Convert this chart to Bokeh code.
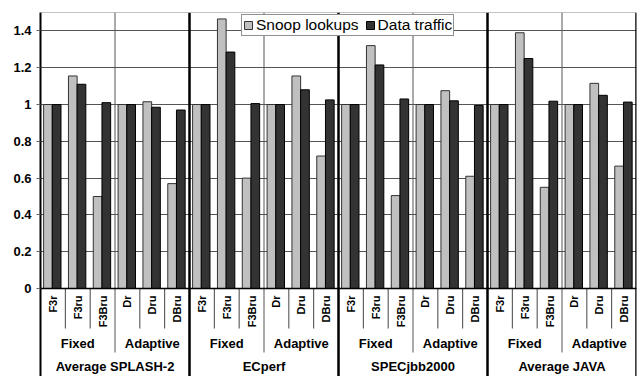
import math
from bokeh.plotting import figure
from bokeh.models import (ColumnDataSource, FixedTicker, Legend, LegendItem,
                          Range1d, Span)
from bokeh.core.properties import value
from bokeh.embed import file_html
from bokeh.resources import INLINE

# ---- data -------------------------------------------------------------
groups = ["Average SPLASH-2", "ECperf", "SPECjbb2000", "Average JAVA"]
policies = ["Fixed", "Adaptive"]
configs = ["F3r", "F3ru", "F3Bru", "Dr", "Dru", "DBru"]

snoop_lookups = [1.0, 1.155, 0.50, 1.0, 1.015, 0.57,
                 1.0, 1.465, 0.60, 1.0, 1.155, 0.72,
                 1.0, 1.32, 0.505, 1.0, 1.075, 0.61,
                 1.0, 1.39, 0.55, 1.0, 1.115, 0.665]
data_traffic = [1.0, 1.11, 1.01, 1.0, 0.985, 0.97,
                1.0, 1.285, 1.005, 1.0, 1.08, 1.025,
                1.0, 1.215, 1.03, 1.0, 1.02, 0.995,
                1.0, 1.25, 1.018, 1.0, 1.05, 1.013]

y_ticks = [0, 0.2, 0.4, 0.6, 0.8, 1, 1.2, 1.4]
y_tick_labels = ["0", "0.2", "0.4", "0.6", "0.8", "1", "1.2", "1.4"]

FONT = "Liberation Sans"
LIGHT = "#C0C0C0"
DARK = "#333333"

n = len(groups) * len(configs)
labels = [c for _ in groups for c in configs]
idx = list(range(n))

# y extent: value axis 0..1.5, space below zero holds the category labels
PX_PER_UNIT = 184.0
Y_BOTTOM = -88.0 / PX_PER_UNIT

p = figure(width=641, height=376, output_backend="svg", toolbar_location=None,
           x_axis_location=None, x_range=Range1d(0, n),
           y_range=Range1d(Y_BOTTOM, 1.5),
           min_border_left=40, min_border_right=5, min_border_top=12,
           min_border_bottom=0)
p.outline_line_color = None
p.background_fill_color = "white"
p.xgrid.visible = False

# horizontal grid
p.ygrid.ticker = FixedTicker(ticks=y_ticks)
p.ygrid.grid_line_color = "#555555"
p.ygrid.grid_line_width = 1

# y axis
yax = p.yaxis[0]
yax.ticker = FixedTicker(ticks=y_ticks)
yax.major_label_overrides = {t: s for t, s in zip(y_ticks, y_tick_labels)}
yax.axis_line_color = "black"
yax.axis_line_width = 2
yax.major_tick_line_color = "#666666"
yax.major_tick_out = 4
yax.major_tick_in = 0
yax.minor_tick_line_color = None
yax.major_label_standoff = 5
yax.major_label_text_font = FONT
yax.major_label_text_font_style = "bold"
yax.major_label_text_font_size = "13px"
yax.major_label_text_color = "black"

# top border and zero line
p.add_layout(Span(location=1.5, dimension="width", line_color="#888888", line_width=1))
p.add_layout(Span(location=0, dimension="width", line_color="black", line_width=1.5))

# separators between Fixed/Adaptive halves (through plot and into labels)
half_x = [g * 6 + 3 for g in range(len(groups))]
p.segment(x0=half_x, y0=[1.5] * len(half_x), x1=half_x,
          y1=[-64.0 / PX_PER_UNIT] * len(half_x),
          line_color="#555555", line_width=1)

# separators between individual configurations (label area only)
cat_x = [i for i in range(1, n) if i % 3 != 0]
p.segment(x0=cat_x, y0=[0] * len(cat_x), x1=cat_x,
          y1=[-40.0 / PX_PER_UNIT] * len(cat_x),
          line_color="#444444", line_width=1)

# separators between benchmarks
grp_x = [g * 6 for g in range(1, len(groups) + 1)]
p.segment(x0=grp_x, y0=[1.5] * len(grp_x), x1=grp_x,
          y1=[Y_BOTTOM] * len(grp_x), line_color="black", line_width=2.5)

# bars
src = ColumnDataSource(dict(
    xs=[i + 0.30 for i in idx], xd=[i + 0.65 for i in idx],
    snoop=snoop_lookups, traffic=data_traffic))
r1 = p.vbar(x="xs", top="snoop", bottom=0, width=0.35, source=src,
            fill_color=LIGHT, line_color="#333333", line_width=1)
r2 = p.vbar(x="xd", top="traffic", bottom=0, width=0.35, source=src,
            fill_color=DARK, line_color="black", line_width=1)

# rotated configuration labels
p.text(x=[i + 0.5 for i in idx], y=[-7.0 / PX_PER_UNIT] * n, text=labels,
       angle=math.pi / 2, text_align="right", text_baseline="middle",
       text_font=value(FONT), text_font_style="bold", text_font_size="11px",
       text_color="black")

# policy labels
pol_x, pol_t = [], []
for g in range(len(groups)):
    for k, pol in enumerate(policies):
        pol_x.append(g * 6 + k * 3 + 1.5)
        pol_t.append(pol)
p.text(x=pol_x, y=[-55.0 / PX_PER_UNIT] * len(pol_x), text=pol_t,
       text_align="center", text_baseline="middle",
       text_font=value(FONT), text_font_style="bold", text_font_size="13px",
       text_color="black")

# benchmark labels
p.text(x=[g * 6 + 3 for g in range(len(groups))],
       y=[-78.0 / PX_PER_UNIT] * len(groups), text=groups,
       text_align="center", text_baseline="middle",
       text_font=value(FONT), text_font_style="bold", text_font_size="13px",
       text_color="black")

legend = Legend(items=[LegendItem(label="Snoop lookups", renderers=[r1]),
                       LegendItem(label="Data traffic", renderers=[r2])],
                orientation="horizontal", location=(201, 340),
                label_text_font=FONT, label_text_font_size="15.5px",
                label_text_color="black", label_standoff=3,
                glyph_width=10, glyph_height=10, padding=1, spacing=6,
                margin=0, label_height=12,
                border_line_color="#222222", border_line_width=1,
                background_fill_color="white", background_fill_alpha=1)
p.add_layout(legend)

open("out.html", "w").write(file_html(p, INLINE))
